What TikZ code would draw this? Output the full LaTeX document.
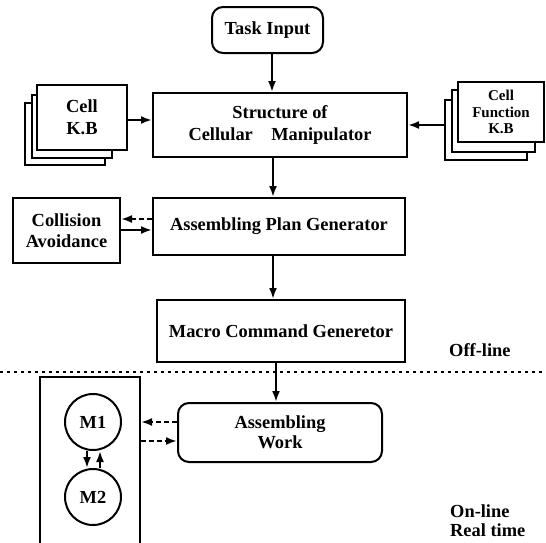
\documentclass[tikz,border=0pt]{standalone}
\usepackage{fontspec}
\setmainfont{Liberation Serif}
\usetikzlibrary{arrows.meta}
\begin{document}
\begin{tikzpicture}[x=1pt,y=-1pt,
  every node/.style={font=\fontsize{18.4}{22}\selectfont\bfseries},
  box/.style={draw,line width=2pt,fill=white,rectangle,inner sep=0pt,align=center},
  rbox/.style={box,rounded corners=11pt},
  layer/.style={draw,line width=2pt,fill=white,rectangle,inner sep=0pt},
  mcirc/.style={draw,line width=2pt,circle,minimum size=56pt,inner sep=0pt},
  arr/.style={line width=2pt,-{Latex[length=11pt,width=8pt]}},
  darr/.style={arr,dash pattern=on 5pt off 3pt},
  sep/.style={line width=2.4pt,dash pattern=on 2.5pt off 4.5pt}
]
\useasboundingbox (0,0) rectangle (546,542);

% top chain
\node[rbox,minimum width=111pt,minimum height=46pt] (task) at (267.5,30) {Task Input};
\node[box,minimum width=254pt,minimum height=64pt] (struct) at (280,125) {Structure of\\Cellular\quad Manipulator};

% Cell K.B stack
\node[layer,minimum width=80pt,minimum height=62pt] (ckb3) at (65,134) {};
\node[layer,minimum width=80pt,minimum height=63pt] (ckb2) at (72,126.5) {};
\node[box,minimum width=90pt,minimum height=65pt] (ckb) at (82,117.5) {Cell\\K.B};

% Cell Function K.B stack
\node[layer,minimum width=82pt,minimum height=60pt] (cf3) at (486,130) {};
\node[layer,minimum width=83pt,minimum height=62pt] (cf2) at (493.5,121) {};
\node[box,minimum width=86pt,minimum height=60pt,font=\fontsize{15}{16.5}\selectfont\bfseries] (cf) at (501,112) {Cell\\Function\\K.B};

\node[box,minimum width=107pt,minimum height=65pt,font=\fontsize{18.4}{20.5}\selectfont\bfseries] (coll) at (66.5,230.5) {Collision\\Avoidance};
\node[box,minimum width=252pt,minimum height=57pt] (apg) at (279,226.5) {Assembling Plan Generator};
\node[box,minimum width=248pt,minimum height=62pt] (mcg) at (281,331) {Macro Command Generetor};
\node[anchor=west,inner sep=0pt] (off) at (449,350) {Off-line};

% separator
\coordinate (sepL) at (0,372);
\coordinate (sepR) at (546,372);
\draw[sep] (sepL) -- (sepR);

% bottom
\node[rbox,minimum width=204pt,minimum height=59pt,font=\fontsize{18.4}{20}\selectfont\bfseries] (aw) at (280,432.5) {Assembling\\Work};
\node[box,fill=none,minimum width=100pt,minimum height=190pt] (plant) at (90,472) {};
\node[mcirc] (m1) at (93,422) {M1};
\node[mcirc] (m2) at (93,497) {M2};
\node[anchor=north west,inner sep=0pt,align=left,font=\fontsize{18.4}{19}\selectfont\bfseries] (online) at (450,505) {On-line\\Real time};

% guide coordinates
\coordinate (vx1) at (272,0);
\coordinate (vx2) at (273,0);
\coordinate (vx3) at (276,0);
\coordinate (hy1) at (0,120);
\coordinate (hy2) at (0,125);
\coordinate (hy3) at (0,219);
\coordinate (hy4) at (0,230);
\coordinate (hy5) at (0,422);
\coordinate (hy6) at (0,441);
\coordinate (mx1) at (87,0);
\coordinate (mx2) at (100,0);

% connectors
\draw[arr] (task.south -| vx1) -- (struct.north -| vx1);
\draw[arr] (ckb.east |- hy1) -- (struct.west |- hy1);
\draw[arr] (cf3.west |- hy2) -- (struct.east |- hy2);
\draw[arr] (struct.south -| vx2) -- (apg.north -| vx2);
\draw[darr] (apg.west |- hy3) -- (coll.east |- hy3);
\draw[arr] (coll.east |- hy4) -- (apg.west |- hy4);
\draw[arr] (apg.south -| vx2) -- (mcg.north -| vx2);
\draw[arr] (mcg.south -| vx3) -- (aw.north -| vx3);
\draw[darr] (aw.west |- hy5) -- (plant.east |- hy5);
\draw[darr] (plant.east |- hy6) -- (aw.west |- hy6);
\draw[arr] (m1.south -| mx1) -- (m2.north -| mx1);
\draw[arr] (m2.north -| mx2) -- (m1.south -| mx2);
\end{tikzpicture}
\end{document}
